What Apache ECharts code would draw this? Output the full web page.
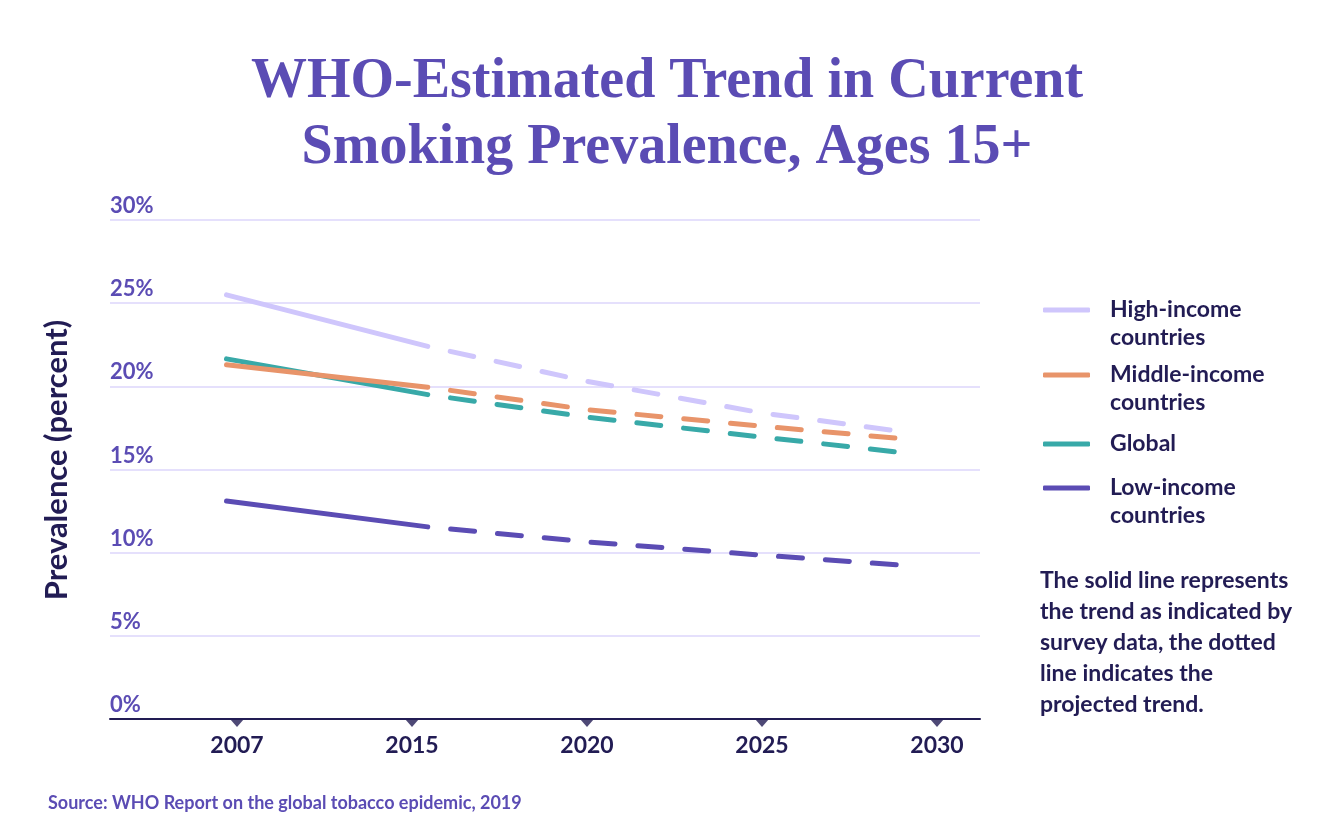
<!DOCTYPE html>
<html>
<head>
<meta charset="utf-8">
<script src="https://cdn.jsdelivr.net/npm/echarts@6/dist/echarts.min.js"></script>
<style>
  html, body { margin: 0; padding: 0; background: #fff; }
  #chart { width: 1334px; height: 834px; }
</style>
</head>
<body>
<div id="chart"></div>
<script>
// tick labels on the x axis (one tick per category, evenly spaced)
const years = ['2007', '2015', '2020', '2025', '2030'];
// where each reading sits along the x axis, in tick units (0 = 2007 tick)
const pointPos = [-0.06, 1.09, 2, 3, 3.86];
// prevalence (%) at each reading; first two = survey trend, rest = projection
const highIncome   = [25.5, 22.4, 20.3, 18.4, 17.2];
const middleIncome = [21.3, 19.95, 18.6, 17.6, 16.8];
const globalTrend  = [21.65, 19.5, 18.15, 16.95, 15.95];
const lowIncome    = [13.1, 11.55, 10.65, 9.85, 9.2];
const yTicks = [0, 5, 10, 15, 20, 25, 30];

const navy = '#221c54';
const purple = '#5b4cb4';

const groups = [
  { name: 'High-income countries', color: '#cfc6fc', values: highIncome },
  { name: 'Global', color: '#38a9a8', values: globalTrend },
  { name: 'Middle-income countries', color: '#e8946a', values: middleIncome },
  { name: 'Low-income countries', color: '#5b4cb4', values: lowIncome }
];

const series = [];
groups.forEach(function (g, gi) {
  const pts = g.values.map(function (v, i) { return [pointPos[i], v]; });
  series.push({
    type: 'line', name: g.name, data: pts.slice(0, 2),
    symbol: 'none', color: g.color, z: 3 + gi,
    lineStyle: { color: g.color, width: 5, cap: 'round' }
  });
  series.push({
    type: 'line', name: g.name, data: pts.slice(1),
    symbol: 'none', color: g.color, z: 3 + gi,
    lineStyle: { color: g.color, width: 5, cap: 'round', type: [24, 23], dashOffset: 24 }
  });
});
// little downward triangles under the axis at each tick
series.push({
  type: 'scatter', data: years.map(function (y, i) { return [i, 0]; }),
  symbol: 'path://M0,0L14,0L7,8Z', symbolSize: [14, 8], symbolOffset: [0, 4],
  itemStyle: { color: navy }, clip: false, silent: true, z: 10
});

// two-line names get a blank first line so the icon sits on the first text line
function legendFor(name, top, twoLines) {
  return {
    data: [name], left: 1043, top: top, padding: 0,
    icon: 'roundRect', itemWidth: 47, itemHeight: 5,
    formatter: function (n) {
      return twoLines ? '\n' + n.replace(' countries', '\ncountries') : n;
    },
    textStyle: {
      fontFamily: 'Lato', fontWeight: 'bold', fontSize: 23, color: navy,
      lineHeight: 28, padding: [0, 0, 0, 15]
    }
  };
}

const chart = echarts.init(document.getElementById('chart'));
chart.setOption({
  animation: false,
  backgroundColor: '#fff',
  title: [
    {
      text: 'WHO-Estimated Trend in Current\nSmoking Prevalence, Ages 15+',
      left: 'center', top: 45,
      textStyle: { fontFamily: 'Liberation Serif', fontWeight: 'bold', fontSize: 56, lineHeight: 66, color: purple }
    },
    {
      text: 'The solid line represents\nthe trend as indicated by\nsurvey data, the dotted\nline indicates the\nprojected trend.',
      left: 1040, top: 565, padding: 0,
      textStyle: { fontFamily: 'Lato', fontWeight: 'bold', fontSize: 23, lineHeight: 31, color: navy }
    },
    {
      text: 'Source: WHO Report on the global tobacco epidemic, 2019',
      left: 48, top: 793, padding: 0,
      textStyle: { fontFamily: 'Lato', fontWeight: 'bold', fontSize: 18, lineHeight: 20, color: purple }
    }
  ],
  legend: [
    legendFor('High-income countries', 268, true),
    legendFor('Middle-income countries', 333, true),
    legendFor('Global', 430, false),
    legendFor('Low-income countries', 446, true)
  ],
  graphic: [{
    type: 'text', x: 57, y: 460, rotation: Math.PI / 2,
    style: {
      text: 'Prevalence (percent)', textAlign: 'center', textVerticalAlign: 'middle',
      font: 'bold 31px Lato', fill: navy
    }
  }],
  grid: { left: 110, right: 354, top: 220, bottom: 115 },
  xAxis: {
    type: 'value', min: -0.7257, max: 4.2457,
    axisLine: { show: true, lineStyle: { color: navy, width: 2 } },
    axisTick: { show: false },
    splitLine: { show: false },
    axisLabel: {
      customValues: years.map(function (y, i) { return i; }),
      formatter: function (v) { return years[Math.round(v)]; },
      fontFamily: 'Lato', fontWeight: 'bold', fontSize: 23, color: navy, margin: 15
    }
  },
  yAxis: {
    type: 'value', min: 0, max: 30, interval: 5,
    axisLine: { show: false },
    axisTick: { show: false },
    splitLine: { lineStyle: { color: '#dcd6fb', width: 1.5 } },
    axisLabel: {
      inside: true, margin: 0,
      customValues: yTicks,
      formatter: '{value}%',
      verticalAlign: 'bottom', padding: [0, 0, 3, 0],
      fontFamily: 'Lato', fontWeight: 'bold', fontSize: 22, color: purple
    }
  },
  series: series
});
</script>
</body>
</html>
